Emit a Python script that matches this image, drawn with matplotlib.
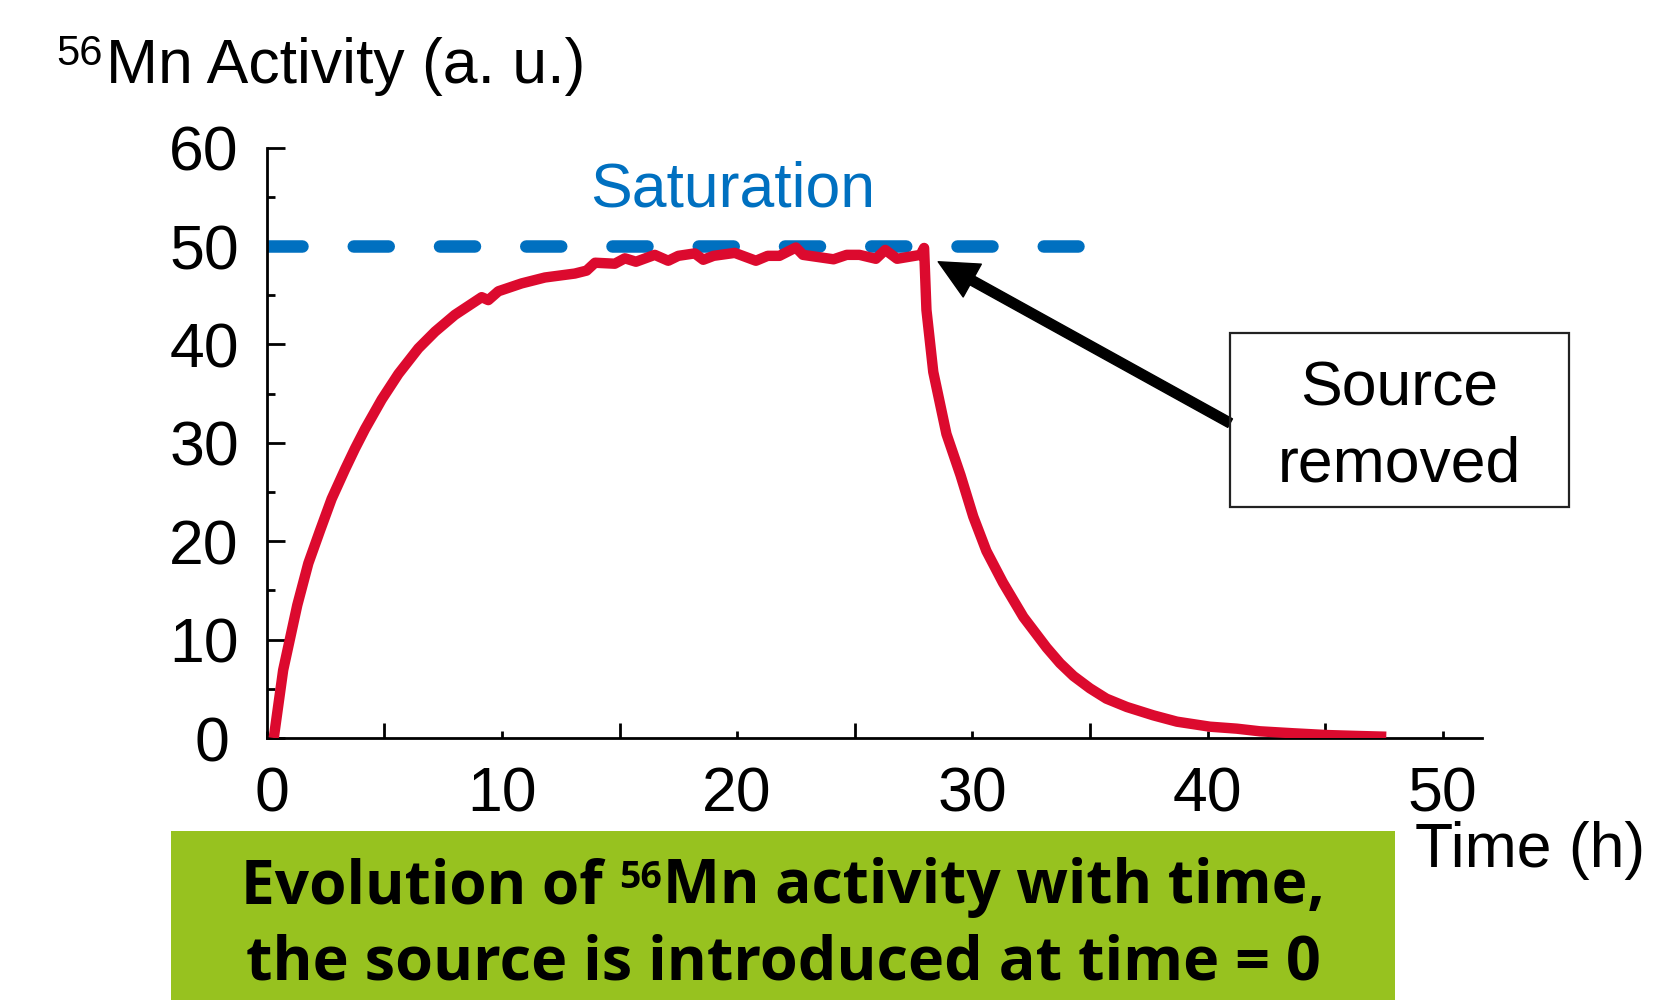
import matplotlib
matplotlib.use('Agg')
import matplotlib.pyplot as plt
from matplotlib import font_manager as fm
from matplotlib.patches import Rectangle
from matplotlib.transforms import ScaledTranslation

plt.rcParams['font.family'] = ['Liberation Sans', 'DejaVu Sans']

# 56Mn activity (time in hours, activity in a.u.)
time_h = [0.3, 0.7, 1.3, 1.77, 2.27, 2.76, 3.33, 3.75, 4.18, 4.89, 5.6, 6.45,
          7.16, 8.0, 9.14, 9.42, 9.85, 10.84, 11.83, 13.1, 13.6, 13.96, 14.8,
          15.23, 15.7, 16.5, 17.07, 17.5, 18.2, 18.56, 19.0, 19.9, 20.8, 21.3,
          21.8, 22.5, 22.8, 24.1, 24.66, 25.2, 25.9, 26.3, 26.8, 27.8, 27.95,
          28.05, 28.34, 28.9, 29.5, 30.04, 30.6, 31.3, 32.17, 33.16, 33.73,
          34.3, 35.0, 35.7, 36.57, 37.7, 38.7, 40.1, 41.24, 42.23, 43.65,
          45.07, 46.5, 47.6]
activity = [0.0, 6.9, 13.5, 17.75, 21.1, 24.3, 27.3, 29.4, 31.4, 34.4, 37.0,
            39.6, 41.3, 43.0, 44.8, 44.5, 45.4, 46.2, 46.8, 47.2, 47.5, 48.3,
            48.2, 48.75, 48.4, 49.1, 48.5, 49.0, 49.25, 48.6, 49.0, 49.3, 48.5,
            49.0, 49.0, 49.85, 49.1, 48.65, 49.1, 49.1, 48.7, 49.6, 48.7, 49.1,
            49.8, 43.5, 37.2, 30.9, 26.7, 22.5, 19.0, 15.8, 12.3, 9.18, 7.6,
            6.3, 5.05, 4.0, 3.15, 2.3, 1.66, 1.15, 0.95, 0.68, 0.48, 0.3,
            0.2, 0.13]

saturation_x = [0, 34.5]
saturation_y = [50, 50]

x_ticks = [0, 10, 20, 30, 40, 50]
x_minor = [5, 15, 25, 35, 45]
y_ticks = [0, 10, 20, 30, 40, 50, 60]
y_minor = [5, 15, 25, 35, 45, 55]

arrow_tip = (28.55, 48.4)
arrow_tail = (40.96, 32.0)

RED = '#DC0A2E'
BLUE = '#0070C0'
GREEN = '#97C21F'
W, H = 1671, 1000


def text_width(renderer, s, prop, size):
    p = prop.copy()
    p.set_size(size)
    w, h, d = renderer.get_text_width_height_descent(s, p, ismath=False)
    return w


def line_layout(renderer, prop, size, pre, sup, post):
    px = 100 / 72.0
    sup_size = size * 0.62
    sup_dx = text_width(renderer, pre + 'M', prop, size) - text_width(renderer, 'M', prop, size)
    sup_w = text_width(renderer, sup, prop, sup_size)
    post_dx = sup_dx + sup_w + 0.03 * size * px
    total = post_dx + text_width(renderer, post, prop, size)
    return sup_size, sup_dx, post_dx, total


def caption(fig):
    prop = fm.FontProperties(family=['Open Sans', 'Noto Sans', 'DejaVu Sans'], weight='bold')
    renderer = fig.canvas.get_renderer()
    pre, sup, post = 'Evolution of ', '56', 'Mn activity with time,'
    line2 = 'the source is introduced at time = 0'

    # scale font so the first line spans the same width as in the original
    base = 40
    total = line_layout(renderer, prop, base, pre, sup, post)[3]
    size = base * 1083 / total
    sup_size, sup_dx, post_dx, total = line_layout(renderer, prop, size, pre, sup, post)
    size2 = size * 1076 / text_width(renderer, line2, prop, size)

    cx = 783.4
    x0 = cx - total / 2
    y1 = 1 - 903.3 / H
    fig.text(x0 / W, y1, pre, fontproperties=prop, fontsize=size, ha='left', va='baseline')
    fig.text((x0 + sup_dx) / W, y1 + 15 / H, sup, fontproperties=prop, fontsize=sup_size,
             ha='left', va='baseline')
    fig.text((x0 + post_dx) / W, y1, post, fontproperties=prop, fontsize=size,
             ha='left', va='baseline')
    fig.text(cx / W, 1 - 980 / H, line2, fontproperties=prop, fontsize=size2,
             ha='center', va='baseline')


def draw():
    fig = plt.figure(figsize=(W / 100, H / 100), dpi=100)
    ax = fig.add_axes([266.7 / W, 1 - 738 / H, (1482 - 266.7) / W, (738 - 147.6) / H])

    ax.plot(saturation_x, saturation_y, color=BLUE, lw=9, dashes=(2.8, 4.1),
            dash_capstyle='round', zorder=2)
    ax.plot(time_h, activity, color=RED, lw=7.5, solid_capstyle='butt',
            solid_joinstyle='round', zorder=3)
    ax.text(19.8, 54.0, 'Saturation', color=BLUE, fontsize=45, ha='center', va='baseline')

    ax.annotate('', xy=arrow_tip, xytext=arrow_tail,
                arrowprops=dict(facecolor='black', edgecolor='black', width=7,
                                headwidth=27, headlength=28, shrink=0))

    ax.set_xlim(0, 51.67)
    ax.set_ylim(0, 60)
    ax.set_xticks(x_ticks)
    ax.set_xticks(x_minor, minor=True)
    ax.set_yticks(y_ticks)
    ax.set_yticks(y_minor, minor=True)
    ax.tick_params(which='both', direction='in', width=2, labelsize=45, pad=20, color='black')
    ax.tick_params(axis='x', which='major', length=5)
    ax.tick_params(axis='x', which='minor', length=10.5)
    ax.tick_params(axis='y', which='major', length=12.7)
    ax.tick_params(axis='y', which='minor', length=6)
    for side in ['top', 'right']:
        ax.spines[side].set_visible(False)
    for side in ['left', 'bottom']:
        ax.spines[side].set_linewidth(2)
    ax.patch.set_alpha(0)

    # the two "0" labels sit a little off in the original
    lab = ax.xaxis.get_major_ticks()[0].label1
    lab.set_transform(lab.get_transform() + ScaledTranslation(5 / 100, 0, fig.dpi_scale_trans))
    lab = ax.yaxis.get_major_ticks()[0].label1
    lab.set_transform(lab.get_transform() + ScaledTranslation(-10 / 100, 0, fig.dpi_scale_trans))

    # axis titles
    fig.text(56 / W, 1 - 65 / H, '56', fontsize=30, ha='left', va='baseline')
    fig.text(105.8 / W, 1 - 83.3 / H, 'Mn Activity (a. u.)', fontsize=45, ha='left', va='baseline')
    fig.text(1415 / W, 1 - 867.3 / H, 'Time (h)', fontsize=45, ha='left', va='baseline')

    # "Source removed" box
    fig.patches.append(Rectangle((1230 / W, 1 - 507.3 / H), 339 / W, 174.6 / H,
                                 transform=fig.transFigure, fill=False,
                                 edgecolor='#222222', lw=1.6))
    fig.text(1399.5 / W, 1 - 406 / H, 'Source', fontsize=45, ha='center', va='baseline')
    fig.text(1399.5 / W, 1 - 481.7 / H, 'removed', fontsize=45, ha='center', va='baseline')

    # green caption banner
    fig.patches.append(Rectangle((170.7 / W, 0), (1395 - 170.7) / W, 169 / H,
                                 transform=fig.transFigure, facecolor=GREEN,
                                 edgecolor='none', zorder=0))
    caption(fig)

    fig.savefig('out.png', dpi=100)


if __name__ == '__main__':
    draw()
